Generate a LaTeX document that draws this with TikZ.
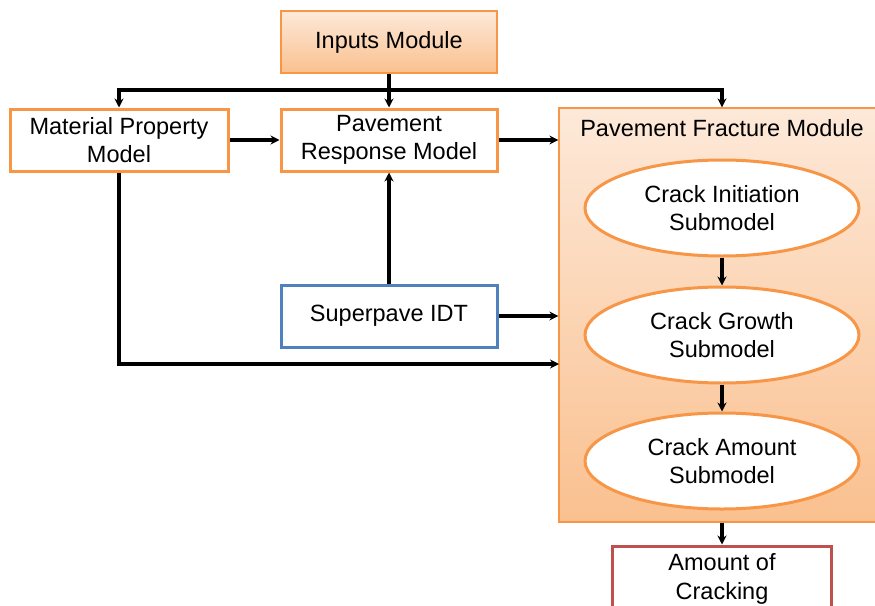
\documentclass[tikz,border=0pt]{standalone}
\usepackage{fontspec}
\setmainfont{Liberation Sans}
\usetikzlibrary{shapes.geometric,arrows.meta}
\definecolor{orgline}{HTML}{F79646}
\definecolor{orglight}{HTML}{FDE9D9}
\definecolor{orgdark}{HTML}{FAC08F}
\definecolor{blueline}{HTML}{4F81BD}
\definecolor{redline}{HTML}{C0504D}

\begin{document}
\begin{tikzpicture}[x=1pt, y=-1pt,
  every node/.style={font=\fontsize{23.5}{28.5}\selectfont, align=center, inner sep=0pt},
  box/.style={rectangle, draw=orgline, line width=3pt, fill=white, minimum width=216pt, minimum height=62pt},
  sub/.style={ellipse, draw=orgline, line width=3pt, fill=white, minimum width=274pt, minimum height=96pt},
  arr/.style={line width=3.2pt, -{Stealth[length=9pt,width=9pt]}}]
  \useasboundingbox (0,0) rectangle (875,605);
  \node[box, top color=orglight, bottom color=orgdark, line width=1.8pt] (inp) at (389, 42) {Inputs Module};
  \node[box, minimum width=218pt] (mat) at (119, 140) {Material Property\\Model};
  \node[box] (resp) at (389, 140) {Pavement\\Response Model};
  \node[box, draw=blueline] (idt) at (389, 316) {Superpave IDT};
  \node[rectangle, draw=orgline, line width=1.2pt, top color=orglight, bottom color=orgdark, minimum width=326pt, minimum height=414pt] (frac) at (722, 315) {};
  \node (fractitle) at (722, 128) {Pavement Fracture Module};
  \node[sub] (ini) at (722, 208) {Crack Initiation\\Submodel};
  \node[sub] (gro) at (722, 335) {Crack Growth\\Submodel};
  \node[sub] (amt) at (722, 461) {Crack Amount\\Submodel};
  \node[box, draw=redline, minimum width=219pt, minimum height=66pt] (crk) at (722, 579) {Amount of\\Cracking};
  \coordinate (bus) at (389, 90);
  \coordinate (low) at (559, 364);
  \draw[line width=3.2pt] (inp.south) -- (bus);
  \draw[arr] (bus) -| (mat.north);
  \draw[arr] (bus) -- (resp.north);
  \draw[arr] (bus) -| (frac.north);
  \draw[arr] (mat.east) -- (resp.west);
  \draw[arr] (resp.east) -- (resp.east -| frac.west);
  \draw[arr] (idt.north) -- (resp.south);
  \draw[arr] (idt.east) -- (idt.east -| frac.west);
  \draw[arr] (mat.south) |- (low);
  \draw[arr] (ini.south) -- (gro.north);
  \draw[arr] (gro.south) -- (amt.north);
  \draw[arr] (frac.south) -- (crk.north);
\end{tikzpicture}
\end{document}
